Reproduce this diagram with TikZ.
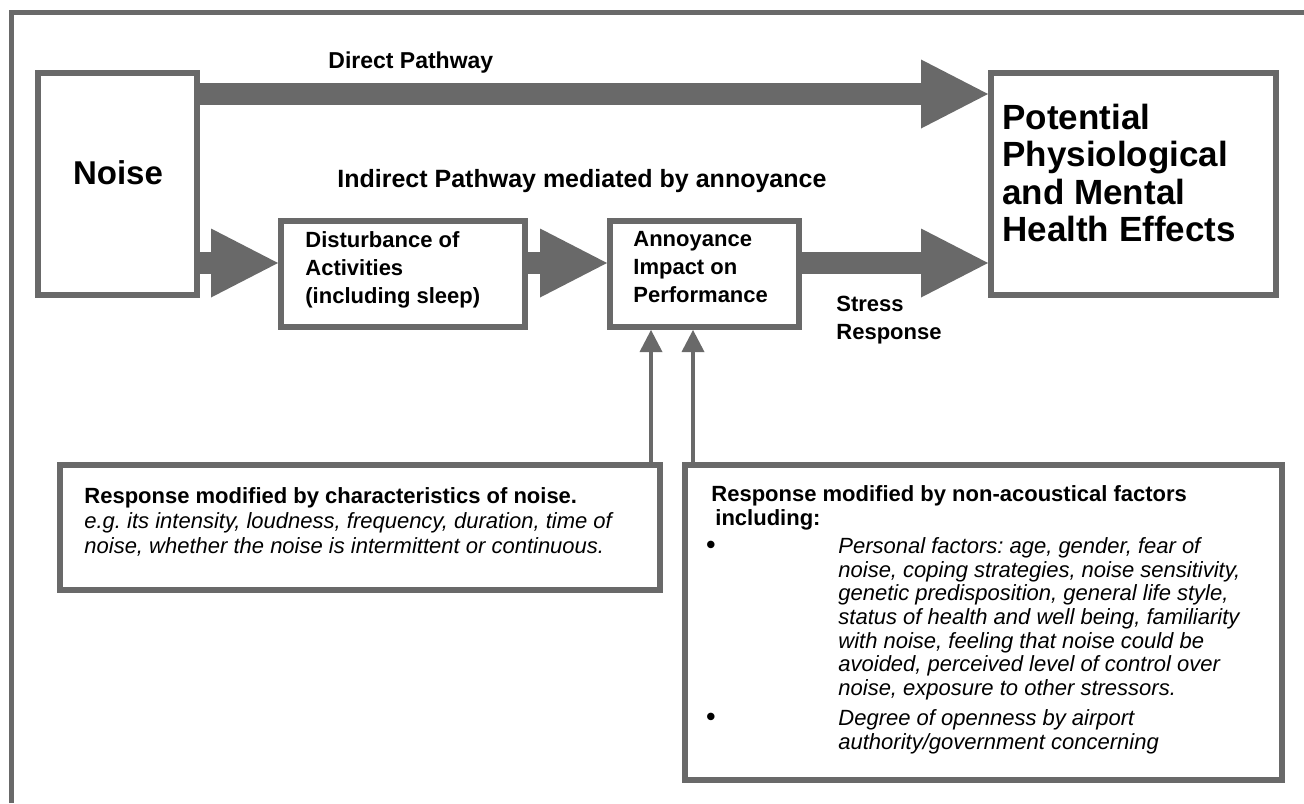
\documentclass[tikz,border=0pt]{standalone}
\usepackage{fontspec}
\setmainfont{Liberation Sans}
\usetikzlibrary{arrows.meta,positioning}
\definecolor{pathgray}{RGB}{105,105,105}
\frenchspacing
\tikzset{
	box/.style={draw=pathgray, line width=3pt, fill=white, inner sep=0pt},
	fatarrow/.style={draw=pathgray, line width=11pt, -{Triangle[length=33.5pt,width=34.5pt,line width=0pt]}},
	slimarrow/.style={draw=pathgray, line width=2pt, -{Triangle[length=11pt,width=11.5pt,line width=0pt]}},
	txt/.style={inner sep=0pt, align=left, font=\bfseries\fontsize{11}{14}\selectfont},
	bigtxt/.style={inner sep=0pt, align=left, font=\bfseries\fontsize{17.5}{18.75}\selectfont},
	lowtxt/.style={inner sep=0pt, align=left, font=\fontsize{11}{11.85}\selectfont},
	dot/.style={inner sep=0pt, font=\bfseries\fontsize{13}{13}\selectfont}
}

\begin{document}
\begin{tikzpicture}[x=0.5pt,y=-0.5pt]
	\path[fill=white, use as bounding box] (0,0) rectangle (1304,803);
	\draw[pathgray, line width=2.5pt] (11.5,803) -- (11.5,12.5) -- (1304,12.5);%frame

	\node[box, minimum width=79.5pt, minimum height=111pt] (noise) at (117.5,184) {};
	\node[box, minimum width=142.5pt, minimum height=111pt] (pot) at (1133.5,184) {};
	\node[box, minimum width=122pt, minimum height=53pt] (dist) at (403,274) {};
	\node[box, minimum width=94.5pt, minimum height=53pt] (ann) at (704.5,274) {};
	\node[box, minimum width=300pt, minimum height=62.5pt] (charbox) at (360,527.5) {};
	\node[box, minimum width=298.5pt, minimum height=157.5pt] (factbox) at (983.5,622.5) {};

	\coordinate (dirrow) at (0,94);
	\coordinate (indrow) at (0,263);
	\coordinate (vleft) at (651,0);
	\coordinate (vright) at (693,0);

	\draw[fatarrow] (noise.east |- dirrow) -- (pot.west |- dirrow);%direct pathway
	\draw[fatarrow] (noise.east |- indrow) -- (dist.west |- indrow);
	\draw[fatarrow] (dist.east |- indrow) -- (ann.west |- indrow);
	\draw[fatarrow] (ann.east |- indrow) -- (pot.west |- indrow);%stress
	\draw[slimarrow] (vleft |- charbox.north) -- (vleft |- ann.south);
	\draw[slimarrow] (vright |- factbox.north) -- (vright |- ann.south);

	\node[anchor=base west, inner sep=0pt, font=\bfseries\fontsize{11.5}{14}\selectfont] (dirlbl) at (328,68) {Direct Pathway};
	\node[anchor=base west, inner sep=0pt, font=\bfseries\fontsize{12.5}{15}\selectfont] (indlbl) at (337,187) {Indirect Pathway mediated by annoyance};
	\node[anchor=base, inner sep=0pt, font=\bfseries\fontsize{16.5}{19}\selectfont] (noiselbl) at (118,184) {Noise};
	\node[bigtxt, anchor=north west] (potlbl) at (1002,103.5) {Potential\\Physiological\\and Mental\\Health Effects};
	\node[txt, anchor=north west] (distlbl) at (305,231) {Disturbance of\\Activities\\(including sleep)};
	\node[txt, anchor=north west] (annlbl) at (633,231) {Annoyance\\Impact on\\Performance};
	\node[txt, anchor=north west] (stresslbl) at (836,296) {Stress\\Response};

	\node[lowtxt, anchor=north west, font=\fontsize{11}{12.5}\selectfont] (charlbl) at (84,487) {\textbf{Response modified by characteristics of noise.}\\\textit{e.g. its intensity, loudness, frequency, duration, time of}\\\textit{noise, whether the noise is intermittent or continuous.}};
	\node[lowtxt, anchor=north west, font=\bfseries\fontsize{11}{12}\selectfont] (facthd) at (711,485) {Response modified by non-acoustical factors\\\hspace{2pt}including:};
	\node[dot, anchor=base west] (bull1) at (706,553) {\textbullet};
	\node[lowtxt, anchor=north west, font=\itshape\fontsize{11}{11.85}\selectfont] (fact1) at (838,537) {Personal factors: age, gender, fear of\\noise, coping strategies, noise sensitivity,\\genetic predisposition, general life style,\\status of health and well being, familiarity\\with noise, feeling that noise could be\\avoided, perceived level of control over\\noise, exposure to other stressors.};
	\node[dot, anchor=base west] (bull2) at (706,725) {\textbullet};
	\node[lowtxt, anchor=north west, font=\itshape\fontsize{11}{11.85}\selectfont] (fact2) at (838,709) {Degree of openness by airport\\authority/government concerning};
\end{tikzpicture}
\end{document}
